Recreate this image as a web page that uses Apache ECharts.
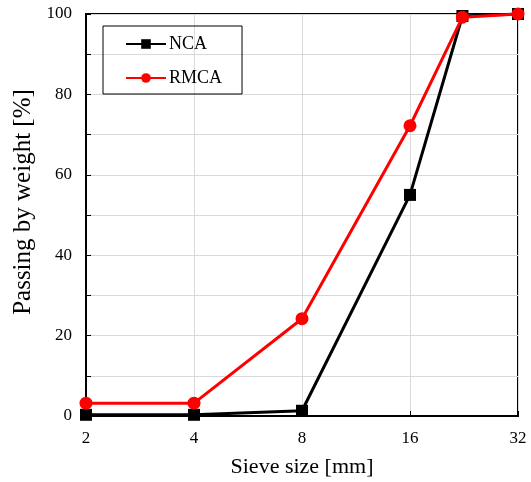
<!DOCTYPE html>
<html>
<head>
<meta charset="utf-8">
<script src="https://cdn.jsdelivr.net/npm/echarts@6/dist/echarts.min.js"></script>
<style>
  html, body { margin: 0; padding: 0; background: #fff; }
  #chart { width: 531px; height: 482px; }
</style>
</head>
<body>
<div id="chart"></div>
<script>
// sieve sizes in mm
const sieveSizes = [2, 4, 8, 16, 22.4, 32];
const ncaPassing = [0.3, 0.3, 1.3, 55.0, 99.5, 100];
const rmcaPassing = [3.2, 3.2, 24.2, 72.2, 99.2, 100];
const xTicks = [2, 4, 8, 16, 32];

const font = "'Liberation Serif', 'Times New Roman', serif";

const chart = echarts.init(document.getElementById("chart"));

const options = {
  animation: false,
  textStyle: { fontFamily: font, color: "#000" },
  grid: {
    left: 86,
    right: 13,
    top: 14,
    bottom: 66,
    outerBoundsMode: "none",
    show: true,
    borderColor: "#000",
    borderWidth: 2,
  },
  legend: {
    left: 103,
    top: 26,
    orient: "vertical",
    borderColor: "#000",
    borderWidth: 1,
    padding: [9, 20, 7, 22],
    itemGap: 16,
    itemWidth: 40,
    itemHeight: 12,
    textStyle: { fontFamily: font, fontSize: 18, color: "#000", padding: [0, 0, 0, -2] },
    data: ["NCA", "RMCA"],
  },
  xAxis: {
    type: "log",
    logBase: 2,
    min: 2,
    max: 32,
    name: "Sieve size [mm]",
    nameLocation: "middle",
    nameGap: 40,
    nameTextStyle: { fontFamily: font, fontSize: 22, color: "#000" },
    axisLine: { show: true, lineStyle: { color: "#000", width: 2 } },
    axisTick: { show: true, inside: true, length: 5, lineStyle: { color: "#000" } },
    axisLabel: {
      fontFamily: font,
      fontSize: 17,
      color: "#000",
      margin: 14,
      formatter: (v) => (xTicks.includes(Math.round(v)) ? String(Math.round(v)) : ""),
    },
    splitLine: { show: true, lineStyle: { color: "#d9d9d9", width: 1 } },
  },
  yAxis: {
    type: "value",
    min: 0,
    max: 100,
    interval: 10,
    name: "Passing by weight [%]",
    nameLocation: "middle",
    nameGap: 50,
    nameTextStyle: { fontFamily: font, fontSize: 25, color: "#000", padding: [0, 0, 0, 26] },
    axisLine: { show: true, lineStyle: { color: "#000", width: 2 } },
    axisTick: { show: true, inside: true, length: 5, lineStyle: { color: "#000" } },
    axisLabel: {
      fontFamily: font,
      fontSize: 17,
      color: "#000",
      margin: 14,
      formatter: (v) => (v % 20 === 0 ? String(v) : ""),
    },
    splitLine: { show: true, lineStyle: { color: "#d9d9d9", width: 1 } },
  },
  series: [
    {
      name: "NCA",
      type: "line",
      data: sieveSizes.map((s, i) => [s, ncaPassing[i]]),
      symbol: "rect",
      symbolSize: 12,
      lineStyle: { color: "#000", width: 3 },
      itemStyle: { color: "#000" },
      z: 2,
    },
    {
      name: "RMCA",
      type: "line",
      data: sieveSizes.map((s, i) => [s, rmcaPassing[i]]),
      symbol: "circle",
      symbolSize: 13,
      lineStyle: { color: "#ff0000", width: 3 },
      itemStyle: { color: "#ff0000" },
      z: 3,
    },
  ],
};

chart.setOption(options);
window.addEventListener("resize", () => {
  chart.resize();
});
</script>
</body>
</html>
